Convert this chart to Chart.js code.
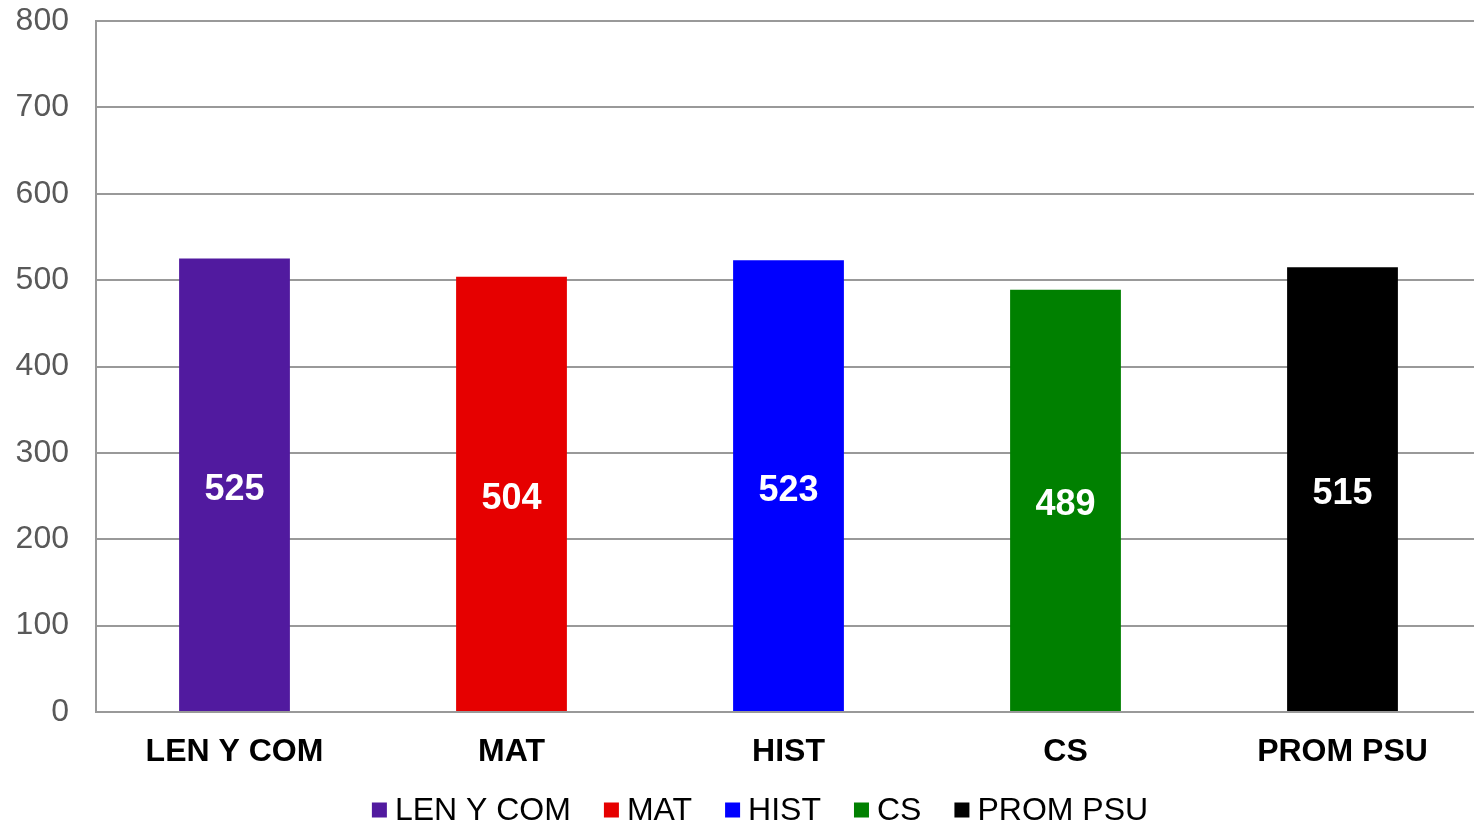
<!DOCTYPE html>
<html>
<head>
<meta charset="utf-8">
<script src="https://cdn.jsdelivr.net/npm/chart.js@4.4.0/dist/chart.umd.min.js"></script>
<style>
  html, body { margin: 0; padding: 0; background: #fff; overflow: hidden; }
  #wrap { width: 1481px; height: 826px; }
</style>
</head>
<body>
<div id="wrap"><canvas id="chart"></canvas></div>
<script>
const categories = ['LEN Y COM', 'MAT', 'HIST', 'CS', 'PROM PSU'];
const scores = [525, 504, 523, 489, 515];
const barColors = ['#511A9F', '#E60000', '#0000FF', '#008000', '#000000'];
const yTicks = [0, 100, 200, 300, 400, 500, 600, 700, 800];

const FONT = "'Liberation Sans', Arial, sans-serif";

// write value in the middle of each bar
const barLabels = {
  id: 'barLabels',
  afterDatasetsDraw(chart) {
    const ctx = chart.ctx;
    const meta = chart.getDatasetMeta(0);
    ctx.save();
    ctx.font = 'bold 36px ' + FONT;
    ctx.fillStyle = '#fff';
    ctx.textAlign = 'center';
    ctx.textBaseline = 'middle';
    meta.data.forEach((bar, i) => {
      const p = bar.getProps(['x', 'y', 'base'], true);
      ctx.fillText(String(scores[i]), p.x, (p.y + p.base) / 2 + 5);
    });
    ctx.restore();
  }
};

// legend row under the axis, excel style
const bottomLegend = {
  id: 'bottomLegend',
  afterDraw(chart) {
    const ctx = chart.ctx;
    const box = 15, textGap = 8, itemGap = 33;
    ctx.save();
    ctx.font = '32px ' + FONT;
    const widths = categories.map(c => ctx.measureText(c).width);
    const total = widths.reduce((a, w) => a + box + textGap + w, 0) + itemGap * (categories.length - 1);
    let x = 760 - total / 2;
    const y = 810;
    ctx.textBaseline = 'middle';
    categories.forEach((c, i) => {
      ctx.fillStyle = barColors[i];
      ctx.fillRect(x, y - box / 2, box, box);
      x += box + textGap;
      ctx.fillStyle = '#000';
      ctx.fillText(c, x, y + 1);
      x += widths[i] + itemGap;
    });
    ctx.restore();
  }
};

new Chart(document.getElementById('chart'), {
  type: 'bar',
  data: {
    labels: categories,
    datasets: [{
      data: scores,
      backgroundColor: barColors,
      categoryPercentage: 1,
      barPercentage: 0.4
    }]
  },
  options: {
    responsive: true,
    maintainAspectRatio: false,
    animation: false,
    layout: { padding: { top: 21, left: 0, right: 0, bottom: 54 } },
    scales: {
      x: {
        grid: { display: false },
        border: { color: '#999', width: 2 },
        ticks: { color: '#000', font: { family: FONT, size: 32, weight: 'bold' }, padding: 13 },
        afterFit(axis) { axis.height = 60; }
      },
      y: {
        min: 0,
        max: 800,
        afterBuildTicks(axis) { axis.ticks = yTicks.map(v => ({ value: v })); },
        grid: { color: '#999', lineWidth: 2, drawTicks: false },
        border: { color: '#999', width: 2 },
        ticks: { color: '#595959', font: { family: FONT, size: 32 }, padding: 27 },
        afterFit(axis) {
          axis.width = 96;
          axis.paddingTop = 0;
          axis.paddingBottom = 0;
        }
      }
    },
    plugins: {
      tooltip: { enabled: false },
      legend: { display: false }
    }
  },
  plugins: [barLabels, bottomLegend]
});
</script>
</body>
</html>
